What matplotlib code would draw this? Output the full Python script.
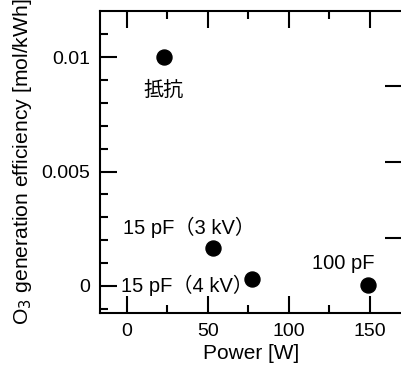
import matplotlib
matplotlib.use("Agg")
import matplotlib.pyplot as plt

plt.rcParams['font.family'] = ['Liberation Sans', 'Noto Sans CJK JP', 'DejaVu Sans']

labels = ['抵抗', '15 pF（3 kV）', '15 pF（4 kV）', '100 pF']
power = [22.8, 53.1, 77.0, 148.8]
efficiency = [0.0100, 0.00166, 0.00032, 0.00004]
label_offsets = [(0, -0.00144), (-14.5, 0.00092), (-39.7, -0.00028), (-15.2, 0.00096)]
right_ticks = [0.00873, 0.00541, 0.0021]

fig = plt.figure(figsize=(4.02, 3.69), dpi=100)
ax = fig.add_axes([100/402, 56/369, 302/402, 302/369])
ax.plot(power, efficiency, 'o', color='black', markersize=10.8, zorder=3)

for lab, x, y, (dx, dy) in zip(labels, power, efficiency, label_offsets):
    ax.text(x + dx, y + dy, lab, fontsize=14.5, ha='center', va='center', color='black')

ax.set_xlim(-16.7, 170)
ax.set_ylim(-0.00118, 0.01201)
ax.set_xticks([0, 50, 100, 150])
ax.set_xticks([25, 75, 125], minor=True)
ax.set_yticks([0, 0.005, 0.01])
ax.set_yticklabels(['0', '0.005', '0.01'])
ax.set_yticks([-0.001, 0.001, 0.002, 0.003, 0.004, 0.006, 0.007, 0.008, 0.009, 0.011], minor=True)
ax.tick_params(which='both', direction='in', width=1.5, labelsize=14, pad=7)
ax.tick_params(which='major', length=12)
ax.tick_params(which='minor', length=6)
ax.tick_params(axis='x', top=True, which='both')
ax.tick_params(axis='y', right=False, which='both')
for s in ['left', 'bottom', 'top']:
    ax.spines[s].set_linewidth(1.5)
ax.spines['right'].set_visible(False)

ax.set_xlabel('Power [W]', fontsize=15, labelpad=3)
ax.set_ylabel('O$_3$ generation efficiency [mol/kWh]', fontsize=15.2, labelpad=5)

ax2 = ax.twinx()
ax2.set_ylim(ax.get_ylim())
ax2.set_yticks(right_ticks)
ax2.set_yticklabels([])
ax2.tick_params(axis='y', direction='in', length=12, width=1.5)
for s in ax2.spines.values():
    s.set_visible(False)

fig.savefig('out.png', dpi=100)
